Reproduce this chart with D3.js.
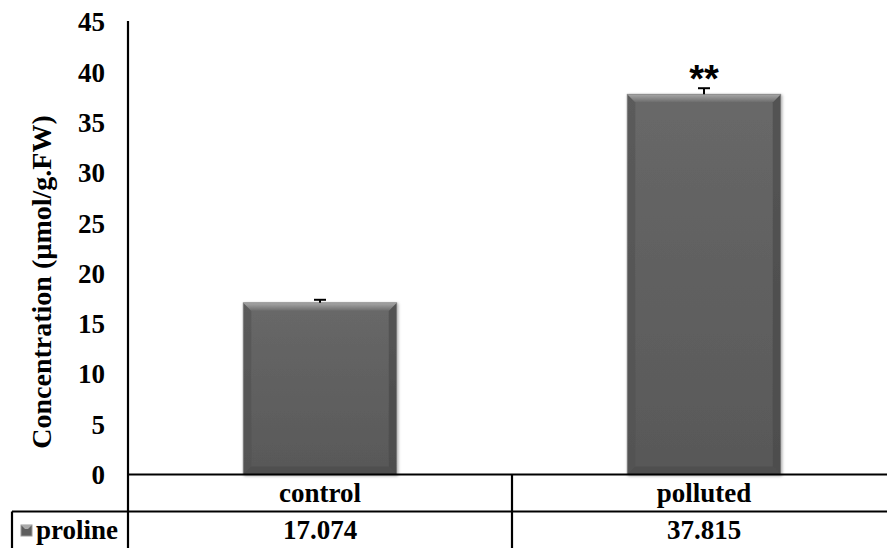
<!DOCTYPE html>
<html>
<head>
<meta charset="utf-8">
<script src="https://cdn.jsdelivr.net/npm/d3@7"></script>
<style>
  body { margin: 0; background: #fff; }
  text { font-family: "Liberation Serif", "Times New Roman", serif; font-weight: bold; fill: #000; }
</style>
</head>
<body>
<script>
const categories = ['control', 'polluted'];
const values = [17.074, 37.815];
const errors = [0.3, 0.6];
const marks = ['', '**'];
const seriesName = 'proline';
const yTicks = [0, 5, 10, 15, 20, 25, 30, 35, 40, 45];

const W = 887, H = 548;
const left = 128, right = 896, zeroY = 474.5, topY = 22;
const rowY = 511.5;
const fs = '27px';

const svg = d3.select('body').append('svg')
  .attr('width', W).attr('height', H);

const defs = svg.append('defs');
const body = defs.append('linearGradient').attr('id', 'body')
  .attr('x1', 0).attr('y1', 0).attr('x2', 0).attr('y2', 1);
body.append('stop').attr('offset', '0%').attr('stop-color', '#686868');
body.append('stop').attr('offset', '100%').attr('stop-color', '#585858');
const topG = defs.append('linearGradient').attr('id', 'topbev')
  .attr('x1', 0).attr('y1', 0).attr('x2', 0).attr('y2', 1);
topG.append('stop').attr('offset', '0%').attr('stop-color', '#a8a8a8');
topG.append('stop').attr('offset', '100%').attr('stop-color', '#6c6c6c');
const f = defs.append('filter').attr('id', 'shadow')
  .attr('x', '-10%').attr('y', '-10%').attr('width', '120%').attr('height', '120%');
f.append('feDropShadow').attr('dx', 1).attr('dy', 1).attr('stdDeviation', 1.5)
  .attr('flood-color', '#000').attr('flood-opacity', 0.35);

const x = d3.scaleBand().domain(categories).range([left, right])
  .paddingInner(0.6).paddingOuter(0.3);
const y = d3.scaleLinear().domain([0, 45]).range([zeroY, topY]);

// y axis labels
svg.append('g').selectAll('text').data(yTicks).join('text')
  .attr('x', 105).attr('y', d => y(d)).attr('dy', '0.35em')
  .attr('text-anchor', 'end').style('font-size', fs)
  .text(d => d);

svg.append('text')
  .attr('transform', `translate(51,${282}) rotate(-90)`)
  .attr('text-anchor', 'middle').style('font-size', '28px')
  .text('Concentration (µmol/g.FW)');

// bars with bevel
const bev = 8;
const bars = svg.append('g').selectAll('g').data(categories).join('g')
  .attr('filter', 'url(#shadow)');
bars.each(function (c, i) {
  const g = d3.select(this);
  const x0 = x(c), x1 = x(c) + x.bandwidth();
  const y0 = y(values[i]), y1 = y(0);
  g.append('rect').attr('x', x0).attr('y', y0).attr('width', x1 - x0).attr('height', y1 - y0)
    .attr('fill', 'url(#body)');
  g.append('path').attr('fill', '#4e4e4e')
    .attr('d', `M${x0},${y0}L${x0 + bev},${y0 + bev}L${x0 + bev},${y1 - bev}L${x0},${y1}Z`).attr('opacity', 0.5);
  g.append('path').attr('fill', '#4a4a4a')
    .attr('d', `M${x1},${y0}L${x1 - bev},${y0 + bev}L${x1 - bev},${y1 - bev}L${x1},${y1}Z`).attr('opacity', 0.7);
  g.append('path').attr('fill', '#4f4f4f')
    .attr('d', `M${x0},${y1}L${x0 + bev},${y1 - bev}L${x1 - bev},${y1 - bev}L${x1},${y1}Z`);
  g.append('path').attr('fill', 'url(#topbev)')
    .attr('d', `M${x0},${y0}L${x1},${y0}L${x1 - bev},${y0 + bev}L${x0 + bev},${y0 + bev}Z`);
  g.append('rect').attr('x', x0).attr('y', y0).attr('width', x1 - x0).attr('height', y1 - y0)
    .attr('fill', 'none').attr('stroke', '#8a8a8a').attr('stroke-width', 0.8);
});

// error bars
const eb = svg.append('g').attr('stroke', '#000').attr('stroke-width', 2);
categories.forEach((c, i) => {
  const cx = x(c) + x.bandwidth() / 2;
  eb.append('line').attr('x1', cx).attr('x2', cx)
    .attr('y1', y(values[i])).attr('y2', y(values[i] + errors[i]));
  eb.append('line').attr('x1', cx - 6).attr('x2', cx + 6)
    .attr('y1', y(values[i] + errors[i])).attr('y2', y(values[i] + errors[i]));
});

svg.append('g').selectAll('text').data(categories).join('text')
  .attr('x', c => x(c) + x.bandwidth() / 2)
  .attr('y', (c, i) => y(values[i] + errors[i]) + 4)
  .attr('text-anchor', 'middle')
  .style('font-family', '"Liberation Sans", Arial, sans-serif')
  .style('font-size', '38px').style('font-weight', 'bold')
  .text((c, i) => marks[i]);

// axis + data table lines
const lines = svg.append('g').attr('stroke', '#000').attr('stroke-width', 2.2).attr('fill', 'none');
lines.append('line').attr('x1', left).attr('x2', left).attr('y1', 21).attr('y2', H);
lines.append('line').attr('x1', left).attr('x2', W).attr('y1', zeroY).attr('y2', zeroY);
lines.append('line').attr('x1', 12).attr('x2', W).attr('y1', rowY).attr('y2', rowY);
lines.append('line').attr('x1', 12).attr('x2', 12).attr('y1', rowY).attr('y2', H);
categories.slice(1).forEach((c, k) => {
  const xd = (x(categories[k]) + x.bandwidth() + x(c)) / 2;
  lines.append('line').attr('x1', xd).attr('x2', xd).attr('y1', zeroY).attr('y2', H);
});

// table text
svg.append('g').selectAll('text').data(categories).join('text')
  .attr('x', c => x(c) + x.bandwidth() / 2).attr('y', 493).attr('dy', '0.35em')
  .attr('text-anchor', 'middle').style('font-size', fs).text(c => c);
svg.append('g').selectAll('text').data(values).join('text')
  .attr('x', (v, i) => x(categories[i]) + x.bandwidth() / 2).attr('y', 530).attr('dy', '0.35em')
  .attr('text-anchor', 'middle').style('font-size', fs).text(v => v.toFixed(3));

// legend key
svg.append('rect').attr('x', 21).attr('y', 525).attr('width', 11).attr('height', 11)
  .attr('fill', '#5e5e5e').attr('stroke', '#999').attr('stroke-width', 1);
svg.append('path').attr('d', 'M21,525L32,525L28,529L25,529Z').attr('fill', '#aaa');
svg.append('text').attr('x', 36).attr('y', 530).attr('dy', '0.35em')
  .style('font-size', fs).text(seriesName);
</script>
</body>
</html>
